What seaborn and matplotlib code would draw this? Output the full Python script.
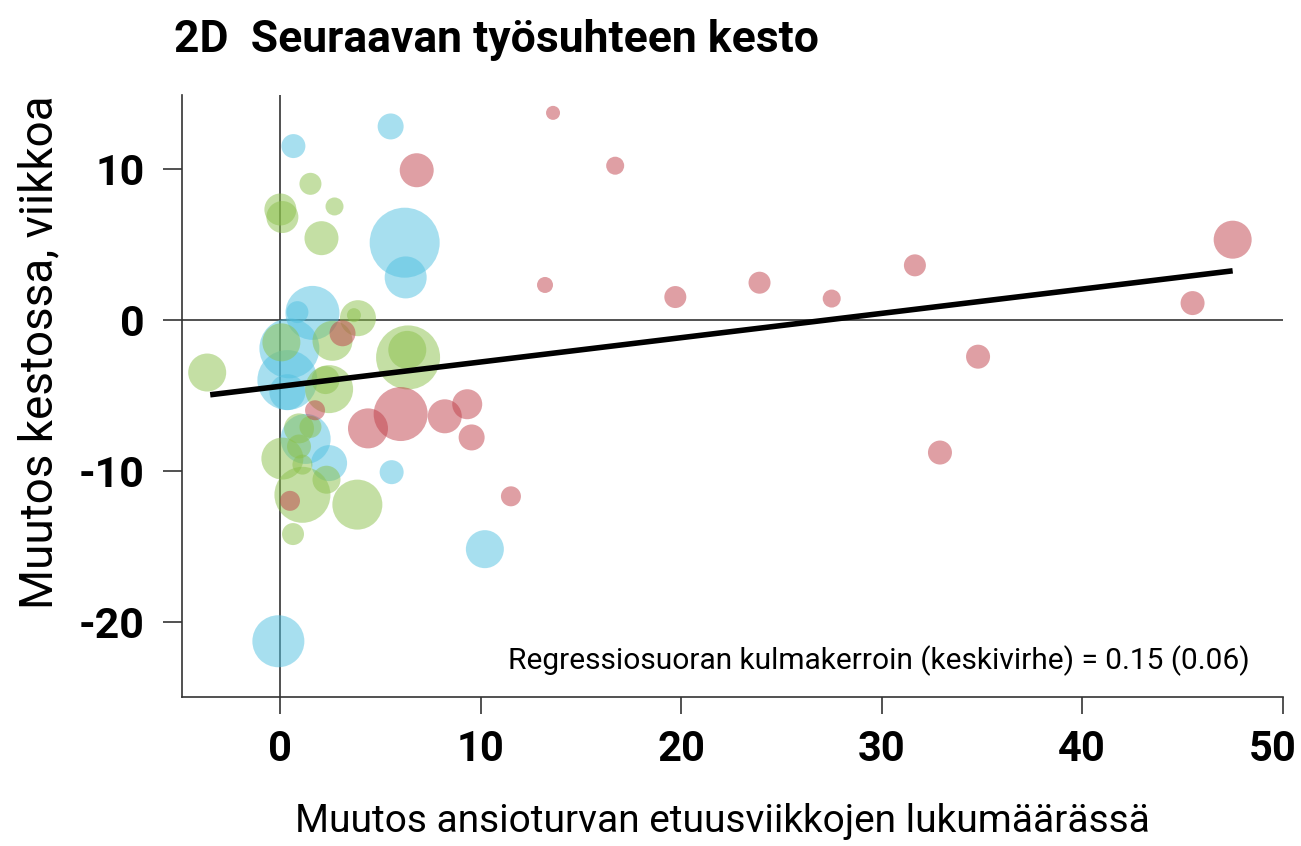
import numpy as np
import pandas as pd
import matplotlib
matplotlib.use("Agg")
import matplotlib.pyplot as plt
import matplotlib.transforms as mtransforms
import seaborn as sns

# bubbles by group: x = change in benefit weeks, y = change in duration, koko = bubble radius weight
sininen_x = [5.5, 0.65, 6.2, 6.25, 1.6, 0.85, 0.45, 0.35, 0.35, 1.26, 2.43, 5.55, 10.2, -0.1]
sininen_y = [12.8, 11.5, 5.1, 2.8, 0.45, 0.5, -1.9, -4.0, -4.8, -7.9, -9.5, -10.1, -15.2, -21.3]
sininen_koko = [13, 12, 35, 21, 27, 11, 30, 30, 18, 25, 18, 12, 19, 26]

vihrea_x = [1.5, 2.7, 0.0, 0.1, 2.05, 3.87, 3.67, 2.6, 0.05, -3.65, 6.37, 6.33, 2.43, 2.25,
            0.93, 1.5, 0.1, 0.93, 1.1, 2.3, 1.1, 3.84, 0.63]
vihrea_y = [9.0, 7.5, 7.3, 6.8, 5.4, 0.1, 0.3, -1.4, -1.5, -3.5, -2.5, -2.0, -4.6, -4.0,
            -7.2, -7.1, -9.2, -8.4, -9.6, -10.6, -11.6, -12.25, -14.2]
vihrea_koko = [11, 9, 16, 16, 17, 18, 7, 20, 19, 19, 32, 19, 24, 14,
               15, 11, 21, 12, 10, 14, 28, 25, 11]

punainen_x = [6.8, 3.1, 1.73, 0.48, 4.37, 6.0, 8.2, 9.32, 9.54, 11.5, 13.6, 16.7, 13.2, 19.7,
              23.9, 27.5, 31.65, 47.5, 45.5, 34.8, 32.9]
punainen_y = [9.9, -0.9, -6.0, -12.0, -7.2, -6.25, -6.4, -5.6, -7.8, -11.7, 13.7, 10.2, 2.3, 1.5,
              2.45, 1.4, 3.6, 5.3, 1.1, -2.45, -8.8]
punainen_koko = [17, 13, 10, 10, 20, 27, 17, 15, 13, 10, 7, 9, 8, 11,
                 11, 9, 11, 19, 12, 12, 12]

# regression line
kulmakerroin = 0.161
vakio = -4.41
suora_x = [-3.5, 47.5]

x_ticks = [0, 10, 20, 30, 40, 50]
y_ticks = [-20, -10, 0, 10]

sns.set_theme(style="white")
plt.rcParams["font.family"] = ["Roboto", "DejaVu Sans"]
plt.rcParams["text.color"] = "black"
plt.rcParams["axes.labelcolor"] = "black"
plt.rcParams["xtick.color"] = "black"
plt.rcParams["ytick.color"] = "black"

df = pd.concat([
    pd.DataFrame({"x": sininen_x, "y": sininen_y, "koko": sininen_koko, "ryhma": "sininen"}),
    pd.DataFrame({"x": vihrea_x, "y": vihrea_y, "koko": vihrea_koko, "ryhma": "vihrea"}),
    pd.DataFrame({"x": punainen_x, "y": punainen_y, "koko": punainen_koko, "ryhma": "punainen"}),
], ignore_index=True)
df["ala"] = (1.44 * df["koko"]) ** 2

varit = {"sininen": "#51C1E1", "vihrea": "#8BC14B", "punainen": "#C0404A"}

fig = plt.figure(figsize=(13.01, 8.46), dpi=100)
ax = fig.add_axes([0.140, 0.176, 0.846, 0.712])

ax.axhline(0, color="#333333", lw=1.2, zorder=1)
ax.axvline(0, color="#333333", lw=1.2, zorder=1)

for ryhma in ["sininen", "vihrea", "punainen"]:
    d = df[df["ryhma"] == ryhma]
    sns.scatterplot(data=d, x="x", y="y", size="ala",
                    sizes=(d["ala"].min(), d["ala"].max()),
                    color=varit[ryhma], alpha=0.5, linewidth=0,
                    legend=False, ax=ax, zorder=2)

sx = np.array(suora_x)
ax.plot(sx, vakio + kulmakerroin * sx, color="black", lw=4, zorder=3,
        solid_capstyle="butt")

ax.set_xlim(-4.9, 50)
ax.set_ylim(-25, 14.9)
ax.set_xticks(x_ticks)
ax.set_yticks(y_ticks)
ax.set_xticklabels(x_ticks, fontsize=30, fontweight="bold")
ax.set_yticklabels(y_ticks, fontsize=31, fontweight="bold")
ax.tick_params(axis="y", left=True, length=14, width=1.2, color="#333333", direction="out", pad=13)
ax.tick_params(axis="x", bottom=True, length=12, width=1.2, color="#333333", direction="out", pad=11)

# last x label sits a bit left so it stays inside the figure
lab = ax.get_xticklabels()[-1]
lab.set_transform(lab.get_transform() + mtransforms.ScaledTranslation(-10 / 100, 0, fig.dpi_scale_trans))

sns.despine(ax=ax)
for s in ["left", "bottom"]:
    ax.spines[s].set_color("#333333")
    ax.spines[s].set_linewidth(1.2)

ax.set_xlabel("Muutos ansioturvan etuusviikkojen lukumäärässä", fontsize=28)
ax.set_ylabel("Muutos kestossa, viikkoa", fontsize=33)
ax.xaxis.set_label_coords(0.491, -0.175)
ax.yaxis.set_label_coords(-0.110, 0.573)

ax.text(0.970, 0.061, "Regressiosuoran kulmakerroin (keskivirhe) = 0.15 (0.06)",
        transform=ax.transAxes, ha="right", va="center", fontsize=21.5)

fig.text(0.134, 0.953, "2D  Seuraavan työsuhteen kesto", fontsize=32,
         fontweight="bold", ha="left", va="center")

fig.savefig("out.png", dpi=100)
